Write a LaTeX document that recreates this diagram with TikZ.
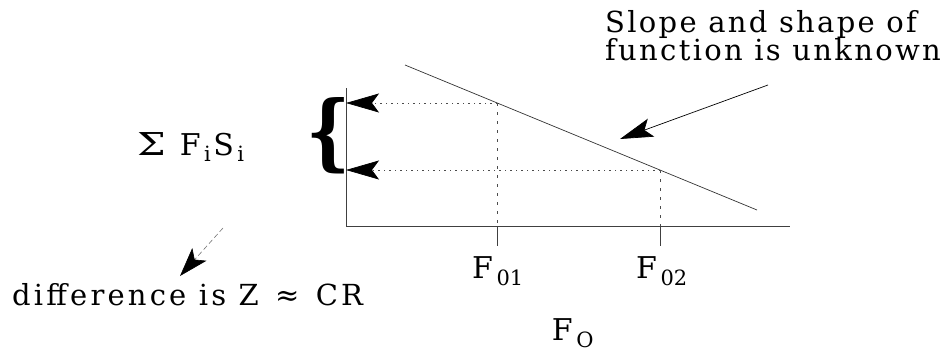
\documentclass[tikz,border=0pt]{standalone}
\usepackage{fontspec}
\usepackage{graphicx}
\setmainfont{DejaVu Serif}
\newfontfamily\widefont{DejaVu Serif}[LetterSpace=8]
\newfontfamily\widerfont{DejaVu Serif}[LetterSpace=11]
\usetikzlibrary{arrows.meta}
\tikzset{
  txt/.style={inner sep=0pt, font=\widefont\fontsize{29}{33}\selectfont},
  lbl/.style={inner sep=0pt, font=\fontsize{30}{34}\selectfont},
  axisline/.style={line width=0.8pt, black!75},
  funcline/.style={line width=0.7pt, black!80},
  dotline/.style={line width=0.7pt, black!70, dash pattern=on 1.5pt off 4pt},
  vdotline/.style={line width=0.7pt, black!70, dash pattern=on 3pt off 6pt},
  bigtip/.style={-{Stealth[length=33pt,width=19pt,inset=7pt,black]}},
  ptr/.style={line width=0.7pt, black, -{Stealth[length=33pt,width=19pt,inset=7pt,black]}},
  dptr/.style={line width=0.6pt, black!55, dash pattern=on 5pt off 3pt, -{Stealth[length=29pt,width=19pt,inset=7pt,black]}},
}
\begin{document}
\begin{tikzpicture}[x=1pt,y=-1pt]
\useasboundingbox (0,0) rectangle (952,353);
% axes
\coordinate (O) at (346,226);
\coordinate (Ytop) at (346,88);
\coordinate (Xend) at (790,226);
\draw[axisline] (Ytop) -- (O) -- (Xend);
% function line
\coordinate (L1) at (405,65);
\coordinate (L2) at (757,210);
\draw[funcline] (L1) -- (L2);
% points on the line
\coordinate (P1) at (497,103);
\coordinate (P2) at (660,170);
\coordinate (A1) at (346,103);
\coordinate (A2) at (346,170);
\coordinate (B1) at (497,226);
\coordinate (B2) at (660,226);
\coordinate (T1) at (497,246);
\coordinate (T2) at (660,246);
\draw[vdotline] (P1) -- (B1);
\draw[vdotline] (P2) -- (B2);
\draw[axisline] (B1) -- (T1);
\draw[axisline] (B2) -- (T2);
\draw[dotline, bigtip] (P1) -- (A1);
\draw[dotline, bigtip] (P2) -- (A2);
% brace
\node[inner sep=0pt, anchor=east] (br) at (351,136) {\resizebox{44pt}{63pt}{\bfseries\{}};
% labels
\node[lbl, anchor=base west] (sum) at (137,155) {\scalebox{1.35}[1.05]{Σ}\hspace{14pt}F\textsubscript{\,i}\hspace{2pt}S\textsubscript{\,i}};
\node[lbl, anchor=base] (f01) at (498,278) {F\textsubscript{\,01}};
\node[lbl, anchor=base] (f02) at (662,278) {F\textsubscript{\,02}};
\node[lbl, anchor=base] (f0) at (573,340) {F\textsubscript{\,O}};
% texts
\node[txt, anchor=base west] (t1) at (605,33) {Slope and shape of};
\node[txt, anchor=base west] (t2) at (605,60) {function is unknown};
\coordinate (ta) at (768,85);
\coordinate (tb) at (620,139);
\draw[ptr] (ta) -- (tb);
\node[txt, font=\widerfont\fontsize{29}{33}\selectfont, anchor=base west] (diff) at (12,305) {difference is Z\hspace{4pt} ≈\hspace{4pt} CR};
\coordinate (da) at (223,228);
\coordinate (db) at (180,276);
\draw[dptr] (da) -- (db);
\end{tikzpicture}
\end{document}
